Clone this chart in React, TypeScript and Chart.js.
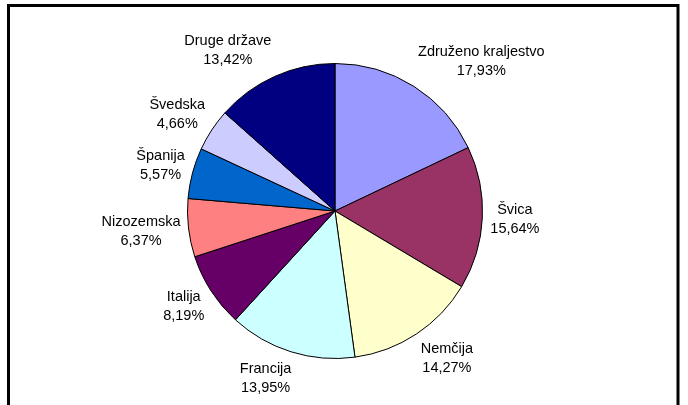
import React, { useEffect, useRef } from "react";
import { Chart, registerables } from "chart.js";

Chart.register(...registerables);

const categories = [
  "Združeno kraljestvo",
  "Švica",
  "Nemčija",
  "Francija",
  "Italija",
  "Nizozemska",
  "Španija",
  "Švedska",
  "Druge države",
];
const shares = [17.93, 15.64, 14.27, 13.95, 8.19, 6.37, 5.57, 4.66, 13.42];
const valueLabels = ["17,93%", "15,64%", "14,27%", "13,95%", "8,19%", "6,37%", "5,57%", "4,66%", "13,42%"];
const colors = ["#9999FF", "#993366", "#FFFFCC", "#CCFFFF", "#660066", "#FF8080", "#0066CC", "#CCCCFF", "#000080"];

const FONT = "14.5px 'Liberation Sans', Arial, sans-serif";

const framePlugin = {
  id: "frame",
  beforeDraw(chart: any) {
    const ctx = chart.ctx;
    ctx.save();
    ctx.fillStyle = "#fff";
    ctx.fillRect(0, 0, chart.width, chart.height);
    ctx.strokeStyle = "#000";
    ctx.lineWidth = 3;
    ctx.strokeRect(8.5, 5.5, 669.5, 430);
    ctx.restore();
  },
};

const labelPlugin = {
  id: "outLabels",
  afterDatasetsDraw(chart: any) {
    const ctx = chart.ctx;
    const meta = chart.getDatasetMeta(0);
    ctx.save();
    ctx.font = FONT;
    ctx.fillStyle = "#000";
    ctx.textAlign = "center";
    ctx.textBaseline = "middle";
    const lineH = 19;
    meta.data.forEach((arc: any, i: number) => {
      const mid = (arc.startAngle + arc.endAngle) / 2;
      const dx = Math.cos(mid);
      const dy = Math.sin(mid);
      const r = arc.outerRadius + 8;
      const ax = arc.x + dx * r;
      const ay = arc.y + dy * r;
      const l1 = categories[i];
      const l2 = valueLabels[i];
      const w = Math.max(ctx.measureText(l1).width, ctx.measureText(l2).width);
      const h = lineH * 2;
      const fx = Math.max(-1, Math.min(1, dx * 3));
      const fy = Math.max(-1, Math.min(1, dy * 1.1));
      const cx = ax + (w / 2) * fx;
      const cy = ay + (h / 2) * fy;
      ctx.fillText(l1, cx, cy - lineH / 2);
      ctx.fillText(l2, cx, cy + lineH / 2);
    });
    ctx.restore();
  },
};

export default function App() {
  const ref = useRef<HTMLCanvasElement>(null);
  useEffect(() => {
    if (!ref.current) return;
    const chart = new Chart(ref.current, {
      type: "pie",
      data: {
        labels: categories,
        datasets: [
          {
            data: shares,
            backgroundColor: colors,
            borderColor: "#000",
            borderWidth: 1,
          },
        ],
      },
      options: {
        responsive: false,
        animation: false,
        layout: { padding: { left: 187, right: 205, top: 63, bottom: 46 } },
        plugins: {
          legend: { display: false },
          tooltip: { enabled: false },
          title: { display: false },
        },
      },
      plugins: [framePlugin, labelPlugin],
    });
    return () => chart.destroy();
  }, []);
  return (
    <div style={{ position: "absolute", left: 0, top: 0, width: 688, height: 405 }}>
      <canvas ref={ref} width={688} height={405} style={{ display: "block" }} />
    </div>
  );
}
